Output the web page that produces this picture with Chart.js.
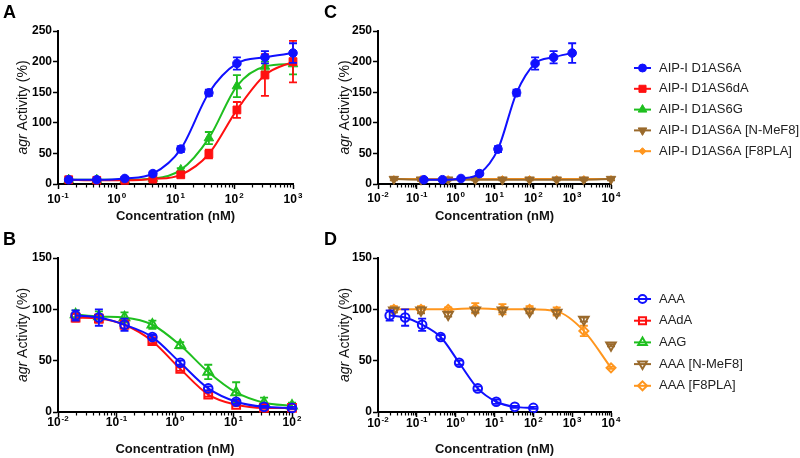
<!DOCTYPE html>
<html>
<head>
<meta charset="utf-8">
<script src="https://cdn.jsdelivr.net/npm/chart.js@4"></script>
<style>
  body { margin: 0; background: #fff; }
  #wrap { position: relative; width: 800px; height: 458px; }
  canvas { position: absolute; }
  .tag { position: absolute; font: bold 18px "Liberation Sans", Arial, sans-serif; line-height: 18px; color: #000; }
</style>
</head>
<body>
<div id="wrap">
  <canvas id="cA" width="320" height="229" style="left:0;top:0"></canvas>
  <canvas id="cB" width="320" height="229" style="left:0;top:229px"></canvas>
  <canvas id="cC" width="480" height="229" style="left:320px;top:0"></canvas>
  <canvas id="cD" width="480" height="229" style="left:320px;top:229px"></canvas>
  <div class="tag" style="left:3px;top:3px">A</div>
  <div class="tag" style="left:3px;top:230px">B</div>
  <div class="tag" style="left:324px;top:3px">C</div>
  <div class="tag" style="left:324px;top:230px">D</div>
</div>
<script>
// concentrations (nM)
const conc3 = [0.152, 0.457, 1.37, 4.12, 12.3, 37, 111, 333, 1000];
const concB = [0.02, 0.05, 0.137, 0.41, 1.23, 3.7, 11.1, 33.3, 100];
const conc5 = [0.0256, 0.128, 0.64, 3.2, 16, 80, 400, 2000, 10000];

// panel A / C  (agr activity %)
const d1as6a = [7, 7, 9, 17, 57, 149, 197, 207, 214];
const d1as6aErr = [1, 1, 2, 3, 5, 5, 10, 10, 16];
const d1as6da = [7, 6, 6, 8, 15, 49, 121, 178, 200];
const d1as6daErr = [1, 1, 1, 2, 3, 7, 13, 34, 34];
const d1as6g = [7, 7, 7, 9, 23, 75, 160, 192, 196];
const d1as6gErr = [1, 1, 1, 2, 3, 10, 18, 8, 17];
const nmef8C = [8, 7, 7, 7, 7, 7, 7, 7, 8];
const nmef8CErr = [2, 2, 1, 1, 1, 1, 1, 1, 2];
const f8plaC = [8, 8, 8, 8, 8, 8, 8, 8, 8];

// panel B / D
const aaa = [94, 92, 85, 73, 48, 23, 10, 5, 4];
const aaaErr = [5, 8, 6, 2, 2, 2, 2, 1, 1];
const aada = [92, 91, 85, 69, 42, 17, 7, 4, 4];
const aadaErr = [4, 4, 4, 2, 2, 2, 1, 1, 1];
const aag = [95, 93, 92, 85, 65, 39, 19, 9, 6];
const aagErr = [4, 5, 5, 4, 3, 7, 10, 5, 3];
const nmef8D = [99, 99, 95, 99, 99, 98, 97, 90, 65];
const nmef8DErr = [2, 3, 2, 2, 2, 2, 2, 2, 1];
const f8plaD = [100, 100, 100, 101, 100, 100, 98, 79, 43];
const f8plaDErr = [3, 3, 2, 5, 5, 3, 4, 5, 1];

const ticksAC = [0, 50, 100, 150, 200, 250];
const ticksBD = [0, 50, 100, 150];

const BLUE = '#1010ff', RED = '#ff1010', GREEN = '#1fbf1f', BROWN = '#9a6a2c', ORANGE = '#ff961e';
const FONT = '"Liberation Sans", Arial, sans-serif';
Chart.defaults.font.family = FONT;
Chart.defaults.color = '#000';

function pts(xs, ys) { return ys.map((v, i) => ({ x: xs[i], y: v })); }

function series(label, xs, ys, errs, color, style, opts) {
  const open = opts && opts.open;
  return Object.assign({
    label: label,
    data: xs ? pts(xs, ys) : [],
    errors: errs,
    borderColor: color,
    backgroundColor: color,
    borderWidth: 2,
    showLine: true,
    cubicInterpolationMode: 'monotone',
    pointStyle: style,
    pointRadius: style === 'circle' ? 4.3 : 5.5,
    pointBackgroundColor: open ? 'rgba(0,0,0,0)' : color,
    pointBorderColor: color,
    pointBorderWidth: open ? 2 : 1,
    clip: false
  }, opts || {});
}

const errorBars = {
  id: 'errorBars',
  beforeDatasetDraw(chart, args) {
    const ds = chart.data.datasets[args.index];
    if (!ds.errors || !ds.data.length) return;
    const ctx = chart.ctx, x = chart.scales.x, y = chart.scales.y;
    ctx.save();
    ctx.strokeStyle = ds.borderColor;
    ctx.lineWidth = 1.8;
    ds.data.forEach((p, i) => {
      const e = ds.errors[i];
      if (!e) return;
      const px = x.getPixelForValue(p.x);
      const t = y.getPixelForValue(p.y + e), b = y.getPixelForValue(p.y - e);
      ctx.beginPath();
      ctx.moveTo(px, t); ctx.lineTo(px, b);
      ctx.moveTo(px - 4, t); ctx.lineTo(px + 4, t);
      ctx.moveTo(px - 4, b); ctx.lineTo(px + 4, b);
      ctx.stroke();
    });
    ctx.restore();
  }
};

// minor log ticks plus "10^n" labels with a raised exponent
const logAxis = {
  id: 'logAxis',
  afterDraw(chart, args, opts) {
    const x = chart.scales.x, ctx = chart.ctx, y0 = chart.chartArea.bottom;
    ctx.save();
    ctx.strokeStyle = '#000';
    ctx.lineWidth = 1.2;
    for (let e = Math.round(Math.log10(x.min)); e < Math.round(Math.log10(x.max)); e++) {
      for (let k = 2; k < 10; k++) {
        const px = Math.round(x.getPixelForValue(k * Math.pow(10, e))) + 0.5;
        ctx.beginPath(); ctx.moveTo(px, y0); ctx.lineTo(px, y0 + 3.5); ctx.stroke();
      }
    }
    ctx.fillStyle = '#000';
    ctx.textBaseline = 'middle';
    ctx.textAlign = 'left';
    const big = 'bold 12px ' + FONT, small = 'bold 8px ' + FONT;
    x.ticks.forEach(t => {
      const exp = String(Math.round(Math.log10(t.value)));
      ctx.font = big; const w1 = ctx.measureText('10').width;
      ctx.font = small; const w2 = ctx.measureText(exp).width;
      const sx = x.getPixelForValue(t.value) - (w1 + w2 + 1) / 2;
      const ly = y0 + opts.labelY;
      ctx.font = big; ctx.fillText('10', sx, ly);
      ctx.font = small; ctx.fillText(exp, sx + w1 + 1, ly - 4);
    });
    ctx.restore();
  }
};

const yTitle = {
  id: 'yTitle',
  afterDraw(chart, args, opts) {
    const ctx = chart.ctx, a = chart.chartArea;
    const it = 'italic 14px ' + FONT, rg = '14px ' + FONT;
    ctx.save();
    ctx.translate(opts.x, (a.top + a.bottom) / 2);
    ctx.rotate(-Math.PI / 2);
    ctx.fillStyle = '#111';
    ctx.textBaseline = 'middle';
    ctx.textAlign = 'left';
    ctx.font = it; const w1 = ctx.measureText('agr').width;
    ctx.font = rg; const w2 = ctx.measureText(' Activity (%)').width;
    const sx = -(w1 + w2) / 2;
    ctx.font = it; ctx.fillText('agr', sx, 0);
    ctx.font = rg; ctx.fillText(' Activity (%)', sx + w1, 0);
    ctx.restore();
  }
};

const sideLegend = {
  id: 'sideLegend',
  afterDraw(chart, args, opts) {
    if (!opts.labels) return;
    const ctx = chart.ctx, x0 = chart.chartArea.right + opts.dx;
    opts.labels.forEach((lab, i) => {
      const ds = chart.data.datasets.find(d => d.label === lab);
      const y = opts.y0 + i * opts.step;
      ctx.save();
      ctx.strokeStyle = ds.borderColor;
      ctx.lineWidth = 2;
      ctx.beginPath(); ctx.moveTo(x0, y); ctx.lineTo(x0 + 17, y); ctx.stroke();
      ctx.fillStyle = ds.pointBackgroundColor;
      ctx.lineWidth = ds.pointBorderWidth;
      Chart.helpers.drawPoint(ctx, {
        pointStyle: ds.pointStyle, rotation: ds.pointRotation || 0,
        radius: ds.legendRadius || 4, borderWidth: ds.pointBorderWidth
      }, x0 + 8.5, y);
      ctx.fillStyle = '#222';
      ctx.font = '13px ' + FONT;
      ctx.textBaseline = 'middle';
      ctx.textAlign = 'left';
      ctx.fillText(lab, x0 + 25, y);
      ctx.restore();
    });
  }
};

function makeChart(id, p) {
  return new Chart(document.getElementById(id), {
    type: 'scatter',
    data: { datasets: p.datasets },
    plugins: [errorBars, logAxis, yTitle, sideLegend],
    options: {
      responsive: false,
      animation: false,
      layout: { padding: { left: 0, top: p.top, right: p.right, bottom: 0 } },
      plugins: {
        legend: { display: false },
        tooltip: { enabled: false },
        yTitle: { x: p.yTitleX },
        logAxis: { labelY: p.labelY },
        sideLegend: p.legend || {}
      },
      scales: {
        x: {
          type: 'logarithmic',
          min: p.xmin, max: p.xmax,
          afterBuildTicks(s) {
            const t = [];
            for (let e = Math.round(Math.log10(p.xmin)); e <= Math.round(Math.log10(p.xmax)); e++) t.push({ value: Math.pow(10, e), major: true });
            s.ticks = t;
          },
          afterFit(s) { s.height = p.xh; },
          ticks: { display: false, autoSkip: false, maxRotation: 0 },
          grid: { drawOnChartArea: false, tickLength: 5, color: '#000', tickWidth: 1.5 },
          border: { display: true, color: '#000', width: 2 },
          title: { display: true, text: 'Concentration (nM)', font: { size: 13, weight: 'bold' }, color: '#111', padding: { top: 0, bottom: p.titlePad } }
        },
        y: {
          min: 0, max: p.yticks[p.yticks.length - 1],
          afterBuildTicks(s) { s.ticks = p.yticks.map(v => ({ value: v })); },
          afterFit(s) { s.width = 58; },
          ticks: { padding: 1, font: { size: 12, weight: 'bold' }, color: '#000' },
          grid: { drawOnChartArea: false, tickLength: 5, color: '#000', tickWidth: 1.5 },
          border: { display: true, color: '#000', width: 2 }
        }
      }
    }
  });
}

makeChart('cA', {
  top: 31, right: 27, xh: 45, xmin: 0.1, xmax: 1000, yticks: ticksAC, labelY: 16, titlePad: 4.7, yTitleX: 23,
  datasets: [
    series('AIP-I D1AS6A', conc3, d1as6a, d1as6aErr, BLUE, 'circle'),
    series('AIP-I D1AS6dA', conc3, d1as6da, d1as6daErr, RED, 'rect'),
    series('AIP-I D1AS6G', conc3, d1as6g, d1as6gErr, GREEN, 'triangle')
  ]
});

makeChart('cB', {
  top: 29, right: 28, xh: 46, xmin: 0.01, xmax: 100, yticks: ticksBD, labelY: 10.5, titlePad: 1.2, yTitleX: 23,
  datasets: [
    series('AAA', concB, aaa, aaaErr, BLUE, 'circle', { open: true }),
    series('AAdA', concB, aada, aadaErr, RED, 'rect', { open: true }),
    series('AAG', concB, aag, aagErr, GREEN, 'triangle', { open: true })
  ]
});

makeChart('cC', {
  top: 31, right: 189, xh: 45, xmin: 0.01, xmax: 10000, yticks: ticksAC, labelY: 14.5, titlePad: 4.5, yTitleX: 25,
  legend: { dx: 23, y0: 68, step: 20.8, labels: ['AIP-I D1AS6A', 'AIP-I D1AS6dA', 'AIP-I D1AS6G', 'AIP-I D1AS6A [N-MeF8]', 'AIP-I D1AS6A [F8PLA]'] },
  datasets: [
    series('AIP-I D1AS6A', conc3, d1as6a, d1as6aErr, BLUE, 'circle', { legendRadius: 4 }),
    series('AIP-I D1AS6A [N-MeF8]', conc5, nmef8C, nmef8CErr, BROWN, 'triangle', { pointRotation: 180, legendRadius: 5 }),
    series('AIP-I D1AS6A [F8PLA]', conc5, f8plaC, null, ORANGE, 'rectRot', { pointRadius: 3.5, legendRadius: 3.5 }),
    series('AIP-I D1AS6dA', null, [], null, RED, 'rect', { legendRadius: 5 }),
    series('AIP-I D1AS6G', null, [], null, GREEN, 'triangle', { legendRadius: 5 })
  ]
});

makeChart('cD', {
  top: 29, right: 189, xh: 46, xmin: 0.01, xmax: 10000, yticks: ticksBD, labelY: 12, titlePad: 1.2, yTitleX: 25,
  legend: { dx: 23, y0: 70, step: 21.7, labels: ['AAA', 'AAdA', 'AAG', 'AAA [N-MeF8]', 'AAA [F8PLA]'] },
  datasets: [
    series('AAA', concB, aaa, aaaErr, BLUE, 'circle', { open: true, legendRadius: 4 }),
    series('AAA [N-MeF8]', conc5, nmef8D, nmef8DErr, BROWN, 'triangle', { open: true, showLine: false, pointRotation: 180, legendRadius: 5 }),
    series('AAA [F8PLA]', conc5, f8plaD, f8plaDErr, ORANGE, 'rectRot', { open: true, pointRadius: 4.5, legendRadius: 4.5 }),
    series('AAdA', null, [], null, RED, 'rect', { open: true, legendRadius: 5 }),
    series('AAG', null, [], null, GREEN, 'triangle', { open: true, legendRadius: 5 })
  ]
});
</script>
</body>
</html>
